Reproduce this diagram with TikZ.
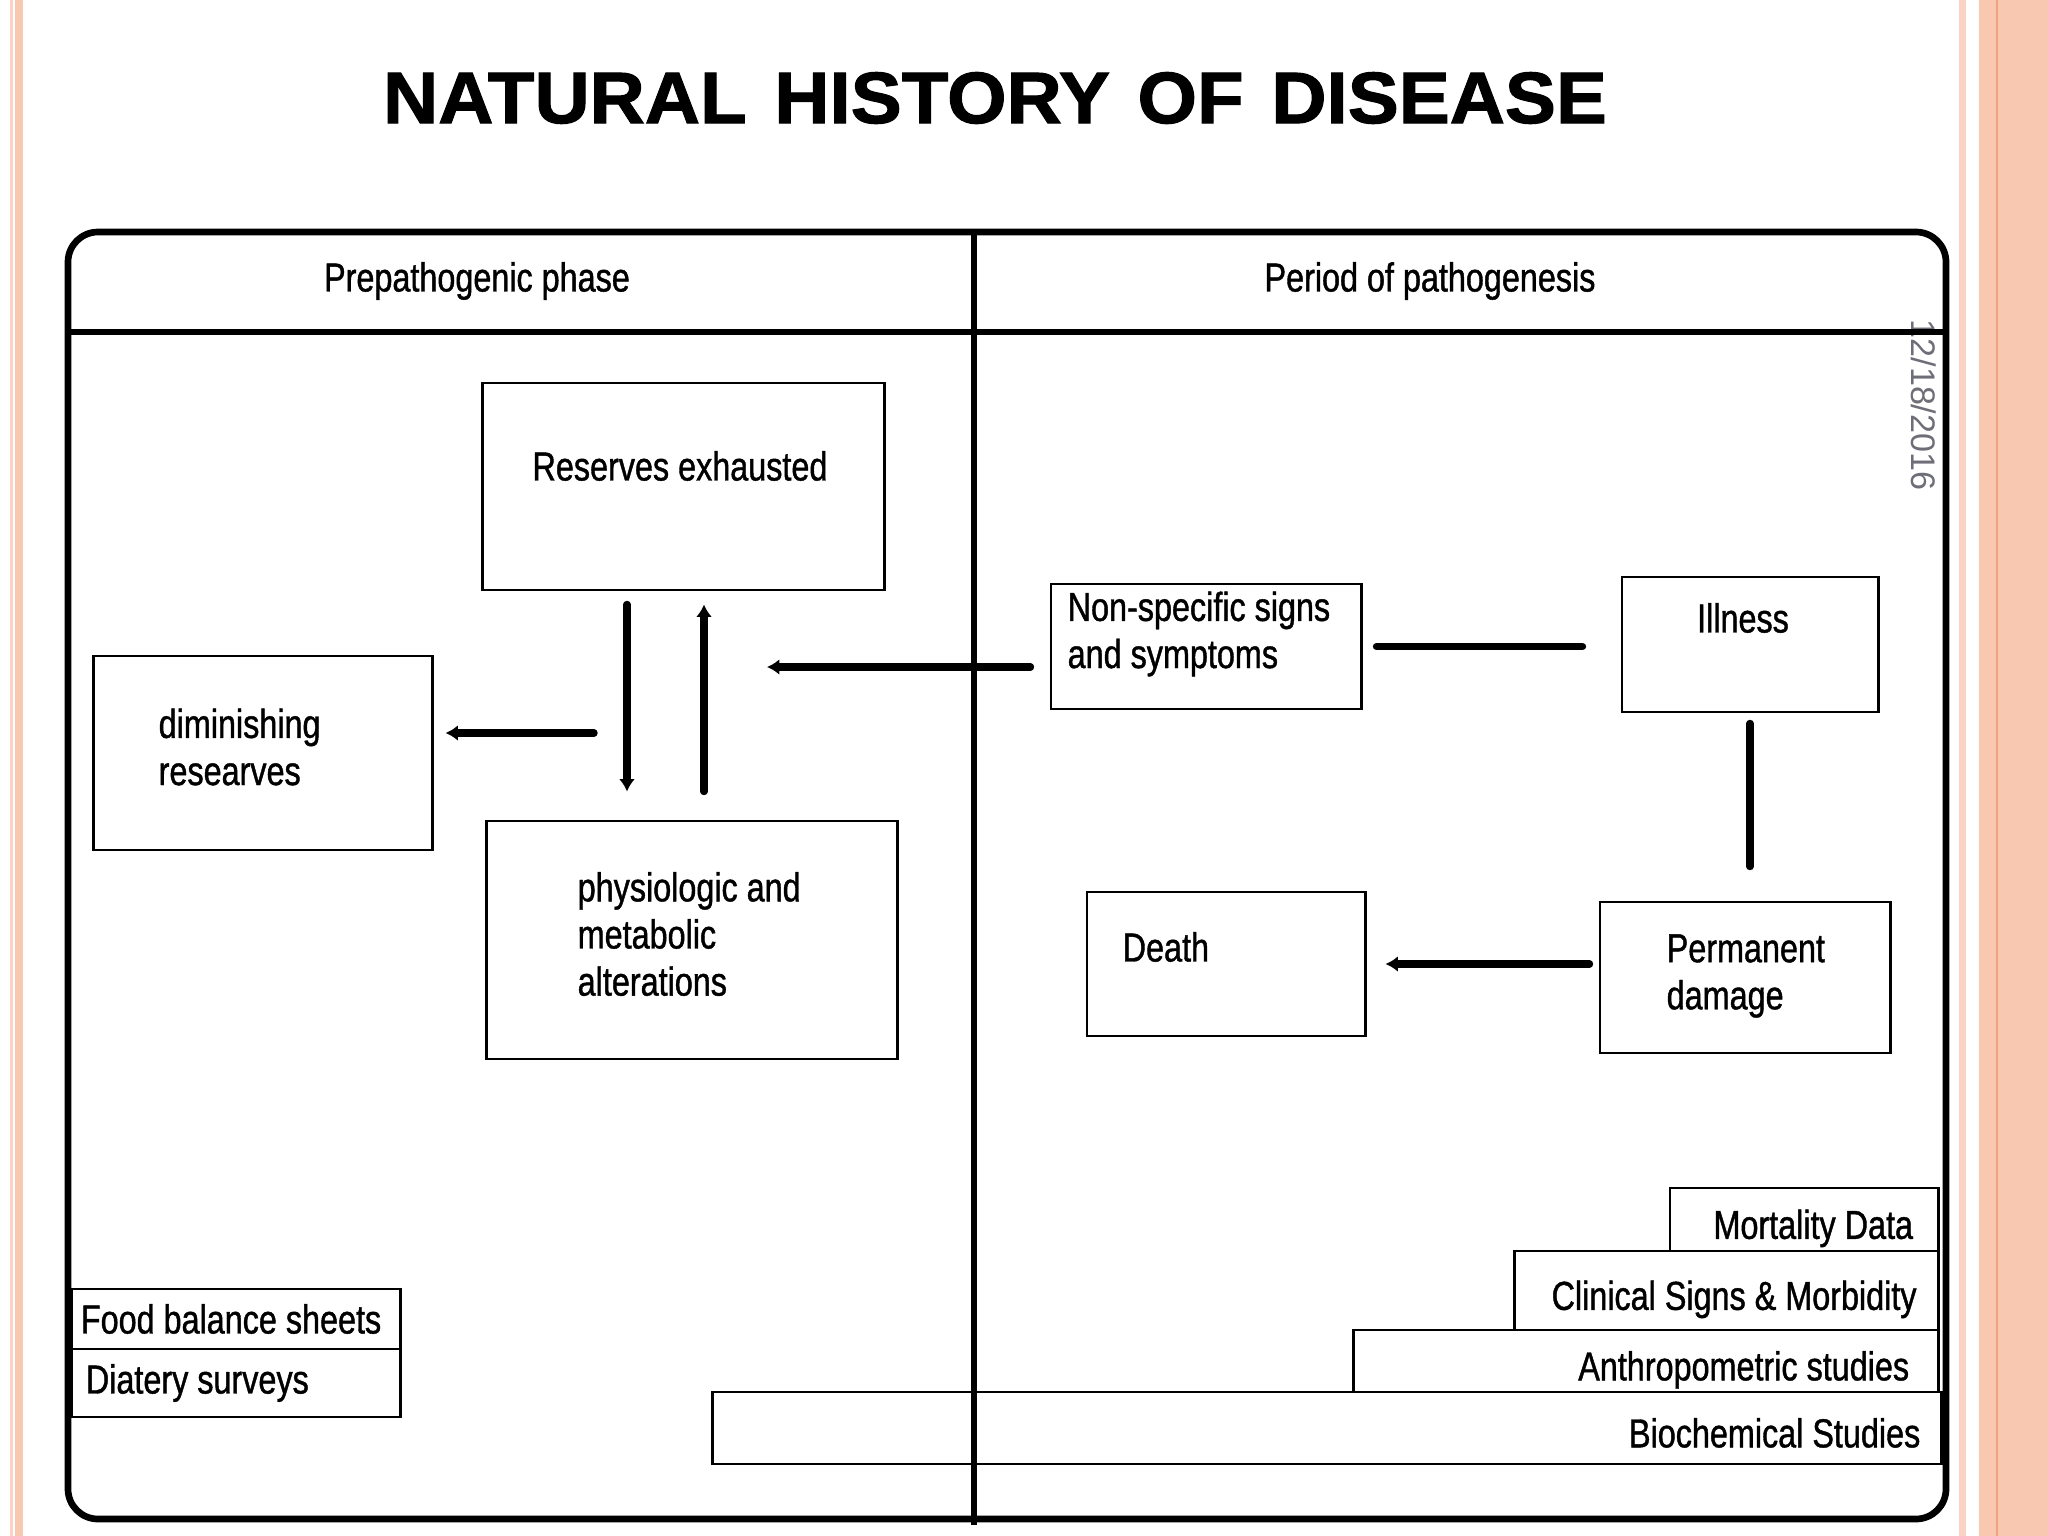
\documentclass[tikz,border=0pt]{standalone}
\usepackage{fontspec}
\setmainfont{Liberation Sans}[FakeStretch=0.8, FakeBold=1]
\newfontfamily\titlefont{Liberation Sans}[FakeStretch=1.05, FakeBold=1.5]
\newfontfamily\datefont{Liberation Sans}
\usetikzlibrary{positioning}
\usetikzlibrary{arrows.meta}
\definecolor{stripe}{HTML}{F9C8B0}
\definecolor{stripeline}{HTML}{F2A27C}
\definecolor{pinkline}{HTML}{FAD2C6}
\definecolor{dategray}{HTML}{6E6E78}
\tikzset{box/.style={draw, line width=0.8pt, inner sep=0pt}}
\tikzset{boxtext/.style={font=\fontsize{11.5}{13.4}\selectfont, inner sep=0pt, align=left}}
\tikzset{cell/.style={box, font=\fontsize{11.5}{13.4}\selectfont, inner ysep=0pt}}
\tikzset{stepcell/.style={cell, align=flush right, text height=13.5pt, text depth=2.5pt}}
\tikzset{link/.style={line width=2.1pt, line cap=round, -{Latex[length=3.5pt, width=4.5pt]}}}
\tikzset{bar/.style={line width=2.1pt, line cap=round}}

\begin{document}
\begin{tikzpicture}[x=0.01cm, y=-0.01cm]
    \useasboundingbox (0,0) rectangle (2048,1536);
    \fill[white] (0,0) rectangle (2048,1536);

    % slide edges
    \fill[stripe] (15,0) rectangle (23,1536);
    \fill[pinkline] (10,0) rectangle (13,1536);
    \fill[pinkline] (1959,0) rectangle (1966,1536);
    \fill[stripe] (1979,0) rectangle (2048,1536);
    \draw[stripeline, line width=0.6pt] (1997,0) -- (1997,1536);

    \node[font=\titlefont\bfseries\fontsize{20.7}{24}\selectfont] (title) at (995,98)
        {NATURAL\hskip.38em HISTORY\hskip.38em OF\hskip.38em DISEASE};

    \node[rotate=-90, text=dategray, font=\datefont\fontsize{9.7}{11}\selectfont] (date) at (1924,405)
        {12/18/2016};

    % frame
    \draw[line width=1.9pt, rounded corners=0.3cm] (68,232) rectangle (1946,1519);
    \draw[line width=1.9pt] (68,332) -- (1946,332);
    \draw[line width=1.5pt] (974,232) -- (974,1525);

    \node[boxtext] (prepath) at (477,281) {Prepathogenic phase};
    \node[boxtext] (pathogen) at (1430,281) {Period of pathogenesis};

    % prepathogenic side
    \node[box, minimum width=4.01cm, minimum height=2.07cm] (reserves) at (683.5,486.5) {};
    \node[boxtext] (reserves-t) at (680,466) {Reserves exhausted};
    \node[box, minimum width=3.38cm, minimum height=1.94cm] (dimin) at (263,753) {};
    \node[boxtext, anchor=west] (dimin-t) at (158,747) {diminishing\\researves};
    \node[box, minimum width=4.10cm, minimum height=2.38cm] (physio) at (692,940) {};
    \node[boxtext, anchor=west] (physio-t) at (577,934) {physiologic and\\metabolic\\alterations};

    % pathogenesis side
    \node[box, minimum width=3.10cm, minimum height=1.25cm] (nonspec) at (1206,646.5) {};
    \node[boxtext, anchor=west] (nonspec-t) at (1067,634) {Non-specific signs\\and symptoms};
    \node[box, minimum width=2.56cm, minimum height=1.35cm] (illness) at (1750,644.5) {};
    \node[boxtext] (illness-t) at (1743,618) {Illness};
    \node[box, minimum width=2.78cm, minimum height=1.44cm] (death) at (1226,964) {};
    \node[boxtext, anchor=west] (death-t) at (1122,947) {Death};
    \node[box, minimum width=2.90cm, minimum height=1.51cm] (permanent) at (1745,977.5) {};
    \node[boxtext, anchor=west] (permanent-t) at (1666,976) {Permanent\\damage};

    % connectors
    \coordinate (split) at (594,733);
    \coordinate (down) at (627,0);
    \coordinate (up) at (704,0);
    \coordinate (turn) at (767,667);
    \draw[link, shorten >=0.12cm] (split) -- (dimin.east |- split);
    \draw[link, shorten <=0.13cm, shorten >=0.28cm] (reserves.south -| down) -- (physio.north -| down);
    \draw[link, shorten <=0.28cm, shorten >=0.13cm] (physio.north -| up) -- (reserves.south -| up);
    \draw[link, shorten <=0.19cm] (nonspec.west |- turn) -- (turn);
    \draw[bar, shorten <=0.14cm, shorten >=0.38cm] (nonspec.east) -- (illness.west |- nonspec.east);
    \draw[bar, shorten <=0.10cm, shorten >=0.34cm] (illness.south) -- (permanent.north -| illness.south);
    \draw[link, shorten <=0.09cm, shorten >=0.19cm] (permanent.west |- death.east) -- (death.east);

    % assessment methods
    \node[cell, minimum width=3.28cm, minimum height=0.60cm, text width=3.10cm, inner xsep=0.09cm, align=flush left]
        (food) at (236,1319) {Food balance sheets};
    \node[cell, minimum width=3.28cm, minimum height=0.68cm, text width=3.00cm, inner xsep=0.14cm, align=flush left]
        (diet) at (236,1383) {Diatery surveys};
    \node[stepcell, minimum width=2.68cm, minimum height=0.63cm, text width=2.18cm, inner xsep=0.25cm]
        (mortality) at (1804,1219.5) {Mortality Data};
    \node[stepcell, minimum width=4.23cm, minimum height=0.79cm, text width=3.80cm, inner xsep=0.215cm]
        (clinical) at (1726.5,1290.5) {Clinical Signs \& Morbidity};
    \node[stepcell, minimum width=5.84cm, minimum height=0.62cm, text width=5.26cm, inner xsep=0.29cm]
        (anthro) at (1646,1361) {Anthropometric studies};
    \node[stepcell, minimum width=12.28cm, minimum height=0.72cm, text width=11.86cm, inner xsep=0.21cm]
        (biochem) at (1327,1428) {Biochemical Studies};
\end{tikzpicture}
\end{document}
